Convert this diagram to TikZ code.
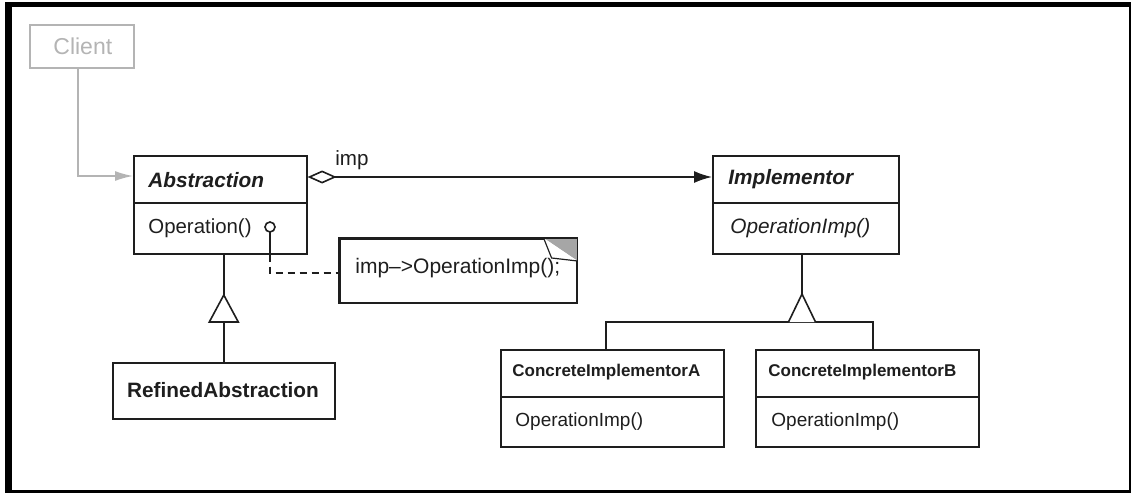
\documentclass[tikz,border=0pt]{standalone}
\usepackage{fontspec}
\setmainfont{Liberation Sans}
\usetikzlibrary{arrows.meta,calc}
\definecolor{ink}{HTML}{1E1E1E}
\definecolor{faded}{HTML}{B4B4B4}
\newcommand{\fs}[1]{\fontsize{#1}{#1}\selectfont}
\begin{document}
\begin{tikzpicture}[x=0.5pt,y=-0.5pt,
  cls/.style={draw=ink,line width=0.8pt,inner sep=0pt,anchor=north west,fill=white},
  lbl/.style={anchor=west,inner sep=0pt,text=ink},
  wire/.style={draw=ink,line width=0.8pt},
  gen/.style={draw=ink,line width=0.8pt,fill=white,line join=miter}]
\useasboundingbox (0,0) rectangle (1131,493);
% outer frame
\fill[black] (5,2) rectangle (1131,493);
\fill[white] (12,7) rectangle (1129,490);

% classes
\node[cls,draw=faded,minimum width=52pt,minimum height=21.5pt] (client) at (29,24) {};
\node[cls,minimum width=86.5pt,minimum height=49pt] (abs) at (133,155) {};
\node[cls,minimum width=93pt,minimum height=49pt] (impl) at (712,155) {};
\node[cls,minimum width=111.5pt,minimum height=48.5pt] (cia) at (500,349) {};
\node[cls,minimum width=111.5pt,minimum height=48.5pt] (cib) at (755,349) {};
\node[cls,minimum width=111pt,minimum height=28pt] (ref) at (112,362) {};
\node[cls,minimum width=118.5pt,minimum height=32pt] (note) at (339,238) {};

% compartment dividers
\draw[wire] ($(abs.north west)+(0,48)$) -- ($(abs.north east)+(0,48)$);
\draw[wire] ($(impl.north west)+(0,48)$) -- ($(impl.north east)+(0,48)$);
\draw[wire] ($(cia.north west)+(0,48)$) -- ($(cia.north east)+(0,48)$);
\draw[wire] ($(cib.north west)+(0,48)$) -- ($(cib.north east)+(0,48)$);

% folded corner of the note
\fill[gray!70] ($(note.north east)+(-34,0)$) -- (note.north east) -- ($(note.north east)+(0,23)$) -- cycle;
\draw[wire,fill=white,line width=0.6pt] ($(note.north east)+(-34,0)$) -- ($(note.north east)+(-26,20)$) -- ($(note.north east)+(0,23)$);
\draw[wire] (note.north west) rectangle (note.south east);

% labels
\node[lbl,text=faded] (clientname) at (53,46) {\fs{11.5}Client};
\node[lbl] (absname) at (148,180) {\fs{10.4}\bfseries\itshape Abstraction};
\node[lbl] (absop) at (148,228) {\fs{10.2}Operation()};
\node[lbl] (implname) at (728,179) {\fs{10.4}\bfseries\itshape Implementor};
\node[lbl] (implop) at (730,228) {\fs{10.4}\itshape OperationImp()};
\node[lbl] (cianame) at (512,372) {\fs{8.5}\bfseries ConcreteImplementorA};
\node[lbl] (ciaop) at (515,422) {\fs{9.5}OperationImp()};
\node[lbl] (cibname) at (768,372) {\fs{8.5}\bfseries ConcreteImplementorB};
\node[lbl] (cibop) at (771,422) {\fs{9.5}OperationImp()};
\node[lbl,anchor=center] (refname) at (223,390) {\fs{10.4}\bfseries RefinedAbstraction};
\node[lbl] (notetext) at (355,268) {\fs{10.5}imp\textendash>OperationImp();};
\node[lbl] (implabel) at (335,160) {\fs{10.3}imp};

% client uses abstraction
\draw[faded,line width=0.8pt,-{Latex[length=9pt,width=5pt]}]
  ($(client.south west)+(49,0)$) |- ($(abs.north west)+(0,21)$);

% aggregation abstraction -> implementor
\draw[wire,{Diamond[open,length=14.5pt,width=6.5pt]}-{Latex[length=9pt,width=6pt]}]
  ($(abs.north east)+(0,22)$) -- ($(impl.north west)+(0,22)$);

% operation annotation (lollipop and dashed link to note)
\coordinate (lol) at (270,227);
\coordinate (bend) at (270,273);
\draw[wire] (lol) circle[radius=2.5pt];
\draw[wire] ($(lol)+(0,5)$) -- (lol |- abs.south);
\draw[wire,dash pattern=on 3.5pt off 2.5pt] (lol |- abs.south) -- (bend) -- (bend -| note.west);

% refined abstraction generalizes abstraction
\coordinate (gAbase) at ($(ref.north)+(0,-40)$);
\coordinate (gAapex) at ($(ref.north)+(0,-67)$);
\draw[wire] (ref.north) -- (gAbase);
\draw[wire] (gAapex) -- (gAapex |- abs.south);
\draw[gen] ($(gAbase)+(-14.5,0)$) -- (gAapex) -- ($(gAbase)+(14.5,0)$) -- cycle;

% concrete implementors generalize implementor
\coordinate (gIapex) at (802,294);
\coordinate (gIbase) at (802,322);
\coordinate (ca) at ($(cia.north)+(-6.5,0)$);
\coordinate (cb) at ($(cib.north)+(5.5,0)$);
\draw[wire] (gIapex) -- (gIapex |- impl.south);
\draw[wire] (ca) -- (ca |- gIbase) -- (cb |- gIbase) -- (cb);
\draw[gen] ($(gIbase)+(-13.5,0)$) -- (gIapex) -- ($(gIbase)+(13.5,0)$);
\end{tikzpicture}
\end{document}
